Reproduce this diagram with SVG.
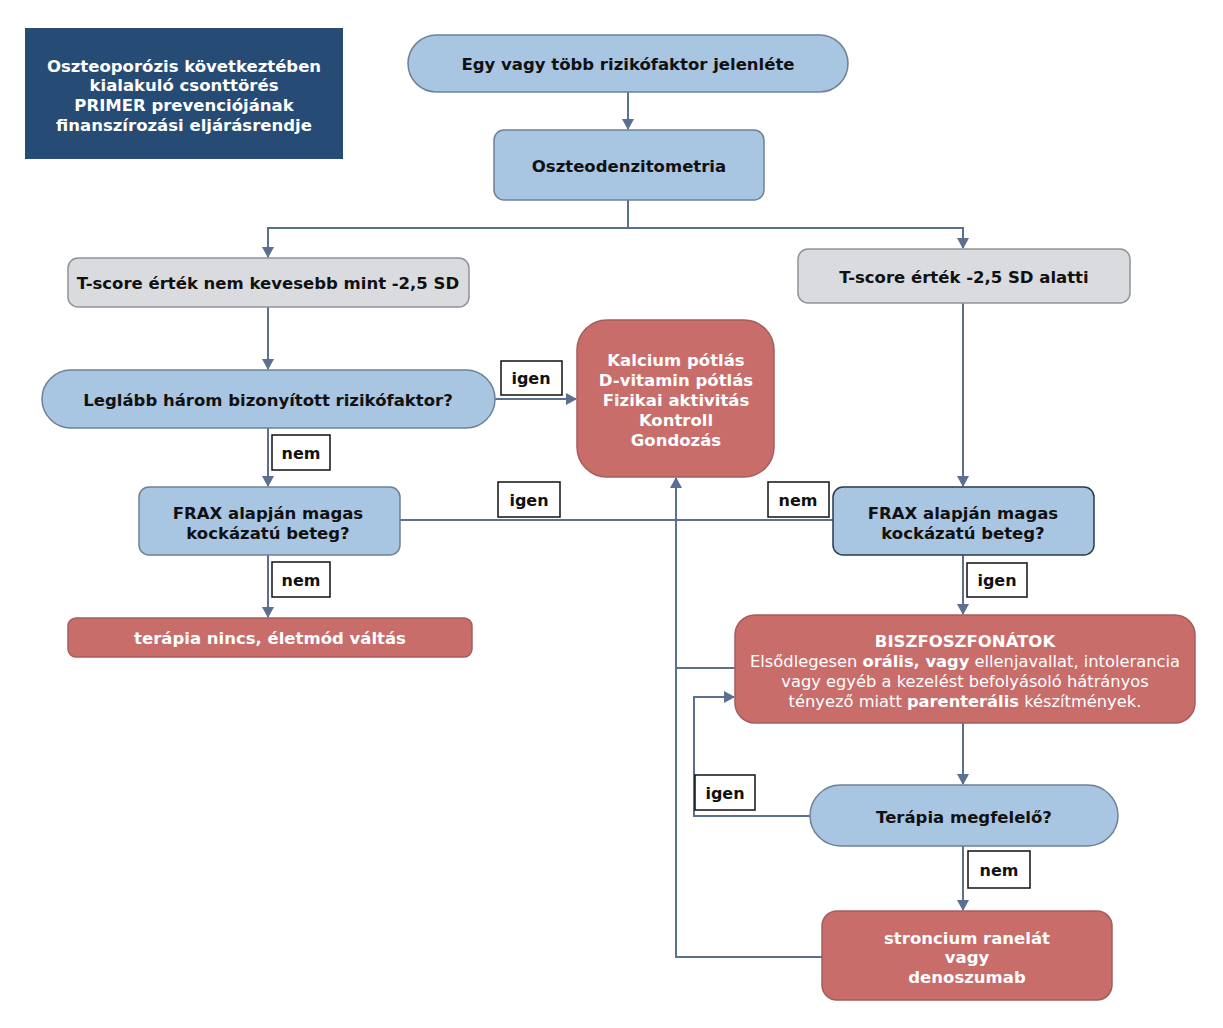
<svg xmlns="http://www.w3.org/2000/svg" width="1223" height="1028" viewBox="0 0 1223 1028">
<defs>
<marker id="ah" markerWidth="12" markerHeight="12" refX="10" refY="6" orient="auto" markerUnits="userSpaceOnUse">
<path d="M0,0 L11,6 L0,12 Z" fill="#5b7090"/>
</marker>
<style>
text{font-family:"DejaVu Sans","Verdana",sans-serif;text-anchor:middle;}
.blue{fill:#a8c5e2;stroke:#6f8095;stroke-width:1.5;}
.gray{fill:#d9dbde;stroke:#8e9399;stroke-width:1.5;}
.red{fill:#c96d6b;stroke:#a45d5c;stroke-width:1.5;}
.dk{fill:#111;font-weight:bold;font-size:16.5px;}
.wt{fill:#fff;font-weight:bold;font-size:16.5px;}
.wn{fill:#fff;font-size:16.3px;}
.lbl{fill:#fff;stroke:#111;stroke-width:1.5;}
.lt{fill:#111;font-weight:bold;font-size:16px;}
.c{fill:none;stroke:#5b7090;stroke-width:2;}
</style>
</defs>
<rect width="1223" height="1028" fill="#fff"/>

<g id="title">
<rect x="25" y="28" width="318" height="131" fill="#264b75"/>
<text x="184" y="72" class="wt">Oszteoporózis következtében</text>
<text x="184" y="91" class="wt">kialakuló csonttörés</text>
<text x="184" y="111" class="wt">PRIMER prevenciójának</text>
<text x="184" y="131" class="wt">finanszírozási eljárásrendje</text>
</g>

<g id="connectors">
<line x1="628" y1="92" x2="628" y2="129" class="c" marker-end="url(#ah)"/>
<polyline points="628,200 628,228 268,228 268,257" class="c" marker-end="url(#ah)"/>
<polyline points="628,228 963,228 963,248" class="c" marker-end="url(#ah)"/>
<line x1="268" y1="307" x2="268" y2="369" class="c" marker-end="url(#ah)"/>
<line x1="495" y1="399" x2="576" y2="399" class="c" marker-end="url(#ah)"/>
<line x1="268" y1="428" x2="268" y2="486" class="c" marker-end="url(#ah)"/>
<line x1="400" y1="520" x2="833" y2="520" class="c"/>
<line x1="268" y1="555" x2="268" y2="617" class="c" marker-end="url(#ah)"/>
<line x1="963" y1="303" x2="963" y2="486" class="c" marker-end="url(#ah)"/>
<line x1="963" y1="555" x2="963" y2="614" class="c" marker-end="url(#ah)"/>
<line x1="963" y1="723" x2="963" y2="784" class="c" marker-end="url(#ah)"/>
<line x1="963" y1="846" x2="963" y2="910" class="c" marker-end="url(#ah)"/>
<polyline points="810,816 694,816 694,697 734,697" class="c" marker-end="url(#ah)"/>
<polyline points="822,957 676,957 676,478" class="c" marker-end="url(#ah)"/>
<line x1="735" y1="668" x2="676" y2="668" class="c"/>
</g>

<g id="n1">
<rect x="408" y="35" width="440" height="57" rx="28.5" class="blue"/>
<text x="628" y="70" class="dk">Egy vagy több rizikófaktor jelenléte</text>
</g>
<g id="n2">
<rect x="494" y="130" width="270" height="70" rx="10" class="blue"/>
<text x="629" y="172" class="dk">Oszteodenzitometria</text>
</g>
<g id="n3">
<rect x="68" y="258" width="401" height="49" rx="10" class="gray"/>
<text x="268" y="289" class="dk">T-score érték nem kevesebb mint -2,5 SD</text>
</g>
<g id="n4">
<rect x="798" y="249" width="332" height="54" rx="10" class="gray"/>
<text x="964" y="283" class="dk">T-score érték -2,5 SD alatti</text>
</g>
<g id="n5">
<rect x="42" y="370" width="453" height="58" rx="29" class="blue"/>
<text x="268" y="406" class="dk">Leglább három bizonyított rizikófaktor?</text>
</g>
<g id="n6">
<rect x="577" y="320" width="197" height="157" rx="30" class="red"/>
<text x="676" y="366" class="wt">Kalcium pótlás</text>
<text x="676" y="386" class="wt">D-vitamin pótlás</text>
<text x="676" y="406" class="wt">Fizikai aktivitás</text>
<text x="676" y="426" class="wt">Kontroll</text>
<text x="676" y="446" class="wt">Gondozás</text>
</g>
<g id="n7">
<rect x="139" y="487" width="261" height="68" rx="10" class="blue"/>
<text x="268" y="519" class="dk">FRAX alapján magas</text>
<text x="268" y="539" class="dk">kockázatú beteg?</text>
</g>
<g id="n8">
<rect x="833" y="487" width="261" height="68" rx="10" class="blue" style="stroke:#2d3a4a"/>
<text x="963" y="519" class="dk">FRAX alapján magas</text>
<text x="963" y="539" class="dk">kockázatú beteg?</text>
</g>
<g id="n9">
<rect x="68" y="618" width="404" height="39" rx="8" class="red"/>
<text x="270" y="644" class="wt">terápia nincs, életmód váltás</text>
</g>
<g id="n10">
<rect x="735" y="615" width="460" height="108" rx="20" class="red"/>
<text x="965" y="647" class="wt">BISZFOSZFONÁTOK</text>
<text x="965" y="667" class="wn">Elsődlegesen <tspan font-weight="bold">orális, vagy</tspan> ellenjavallat, intolerancia</text>
<text x="965" y="687" class="wn">vagy egyéb a kezelést befolyásoló hátrányos</text>
<text x="965" y="707" class="wn">tényező miatt <tspan font-weight="bold">parenterális</tspan> készítmények.</text>
</g>
<g id="n11">
<rect x="810" y="785" width="308" height="61" rx="30.5" class="blue"/>
<text x="964" y="823" class="dk">Terápia megfelelő?</text>
</g>
<g id="n12">
<rect x="822" y="911" width="290" height="89" rx="15" class="red"/>
<text x="967" y="944" class="wt">stroncium ranelát</text>
<text x="967" y="963" class="wt">vagy</text>
<text x="967" y="983" class="wt">denoszumab</text>
</g>

<g id="labels">
<rect x="501" y="361" width="61" height="34" class="lbl"/><text x="531" y="384" class="lt">igen</text>
<rect x="272" y="435" width="58" height="35" class="lbl"/><text x="301" y="459" class="lt">nem</text>
<rect x="498" y="482" width="62" height="35" class="lbl"/><text x="529" y="506" class="lt">igen</text>
<rect x="768" y="482" width="61" height="35" class="lbl"/><text x="798" y="506" class="lt">nem</text>
<rect x="272" y="562" width="58" height="35" class="lbl"/><text x="301" y="586" class="lt">nem</text>
<rect x="967" y="563" width="60" height="34" class="lbl"/><text x="997" y="586" class="lt">igen</text>
<rect x="695" y="775" width="60" height="35" class="lbl"/><text x="725" y="799" class="lt">igen</text>
<rect x="968" y="851" width="62" height="37" class="lbl"/><text x="999" y="876" class="lt">nem</text>
</g>
</svg>
